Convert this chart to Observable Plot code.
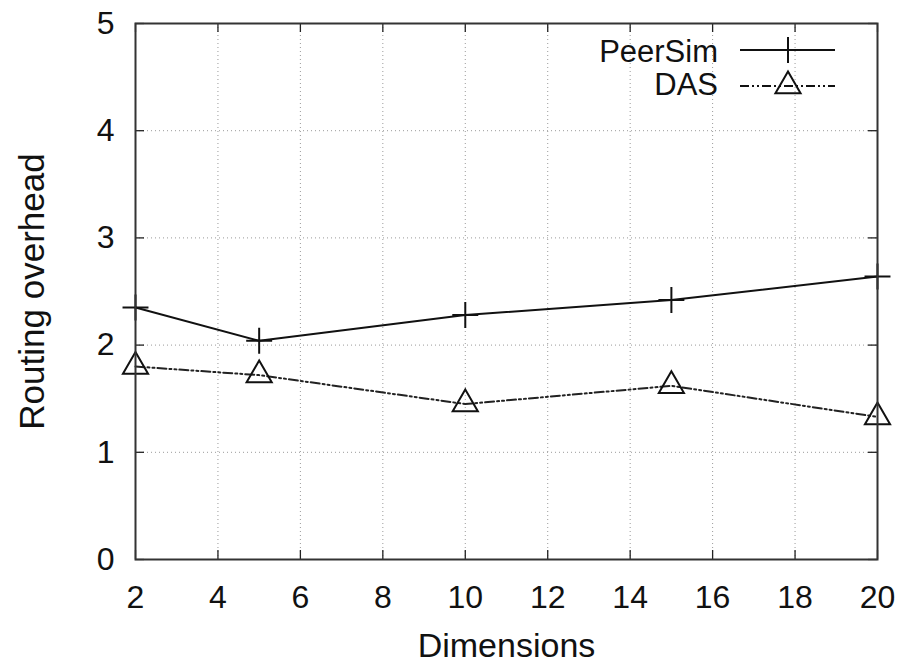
<!DOCTYPE html>
<html>
<head>
<meta charset="utf-8">
<script src="https://cdn.jsdelivr.net/npm/d3@7"></script>
<script src="https://cdn.jsdelivr.net/npm/@observablehq/plot@0.6"></script>
<style>
  html, body { margin: 0; padding: 0; background: #fff; }
  #chart { position: relative; width: 906px; height: 663px; }
  #chart svg { display: block; }
  #legend { position: absolute; left: 0; top: 0; }
</style>
</head>
<body>
<div id="chart"></div>
<script>
// ---- data ----
const dimensions = [2, 5, 10, 15, 20];
const peersim = [2.35, 2.04, 2.28, 2.42, 2.64];
const das = [1.80, 1.72, 1.45, 1.62, 1.33];
const seriesNames = ["PeerSim", "DAS"];
const xTicks = [2, 4, 6, 8, 10, 12, 14, 16, 18, 20];
const yTicks = [0, 1, 2, 3, 4, 5];
const xLabel = "Dimensions";
const yLabel = "Routing overhead";

// ---- build tables ----
const peerRows = dimensions.map((d, i) => ({x: d, y: peersim[i]}));
const dasRows = dimensions.map((d, i) => ({x: d, y: das[i]}));

const FONT = "'Liberation Sans', Arial, Helvetica, sans-serif";
const W = 906, H = 663;
const mL = 135, mR = 29, mT = 23, mB = 104;
const frameW = W - mL - mR, frameH = H - mT - mB;
const TICK = 9;
const plusR = 8.4, triR = 12;
const dasDash = "9,3,2,3,2,3";

const chart = Plot.plot({
  width: W,
  height: H,
  marginLeft: mL,
  marginRight: mR,
  marginTop: mT,
  marginBottom: mB,
  style: {fontFamily: FONT, background: "#fff", color: "#111", overflow: "visible"},
  x: {domain: [2, 20], axis: null},
  y: {domain: [0, 5], axis: null},
  marks: [
    Plot.gridX(xTicks, {stroke: "#9a9a9a", strokeOpacity: 1, strokeWidth: 1, strokeDasharray: "1,3"}),
    Plot.gridY(yTicks, {stroke: "#9a9a9a", strokeOpacity: 1, strokeWidth: 1, strokeDasharray: "1,3"}),
    // inward ticks (bottom, top, left, right)
    Plot.tickX(xTicks, {x: d => d, insetTop: frameH - TICK, stroke: "#222", strokeWidth: 1.3}),
    Plot.tickX(xTicks, {x: d => d, insetBottom: frameH - TICK, stroke: "#222", strokeWidth: 1.3}),
    Plot.tickY(yTicks, {y: d => d, insetRight: frameW - TICK, stroke: "#222", strokeWidth: 1.3}),
    Plot.tickY(yTicks, {y: d => d, insetLeft: frameW - TICK, stroke: "#222", strokeWidth: 1.3}),
    // tick labels
    Plot.text(xTicks, {x: d => d, text: d => String(d), frameAnchor: "bottom", lineAnchor: "bottom", dy: 48, fontSize: 32, fill: "#111"}),
    Plot.text(yTicks, {y: d => d, text: d => String(d), frameAnchor: "left", textAnchor: "end", lineAnchor: "middle", dx: -21, fontSize: 32, fill: "#111"}),
    // axis titles
    Plot.text([xLabel], {frameAnchor: "bottom", lineAnchor: "bottom", dy: 97, fontSize: 34, fill: "#111"}),
    Plot.text([yLabel], {frameAnchor: "left", rotate: -90, lineAnchor: "bottom", textAnchor: "middle", dx: -92, fontSize: 35, fill: "#111"}),
    // series
    Plot.line(peerRows, {x: "x", y: "y", stroke: "#111", strokeWidth: 2}),
    Plot.dot(peerRows, {x: "x", y: "y", symbol: "plus", r: plusR, stroke: "#111", strokeWidth: 2}),
    Plot.line(dasRows, {x: "x", y: "y", stroke: "#222", strokeWidth: 2, strokeDasharray: dasDash}),
    Plot.dot(dasRows, {x: "x", y: "y", symbol: "triangle2", r: triR, stroke: "#111", strokeWidth: 2, fill: "none"}),
    Plot.frame({stroke: "#333", strokeWidth: 2})
  ]
});

const host = document.getElementById("chart");
host.appendChild(chart);

// ---- legend (inside the plot, top-right) ----
const leg = d3.select(host).append("svg")
  .attr("id", "legend")
  .attr("width", W).attr("height", 120)
  .style("pointer-events", "none");

const legendItems = [
  {name: seriesNames[0], textY: 62, lineY: 50, dash: null, symbol: d3.symbolPlus, r: plusR},
  {name: seriesNames[1], textY: 95, lineY: 86, dash: dasDash, symbol: d3.symbolTriangle2, r: triR}
];
const textRight = 718, lineX1 = 740, lineX2 = 835, symX = 788;
legendItems.forEach(it => {
  leg.append("text")
    .attr("x", textRight).attr("y", it.textY)
    .attr("text-anchor", "end")
    .attr("font-family", FONT).attr("font-size", 31).attr("fill", "#111")
    .text(it.name);
  leg.append("line")
    .attr("x1", lineX1).attr("x2", lineX2)
    .attr("y1", it.lineY).attr("y2", it.lineY)
    .attr("stroke", "#111").attr("stroke-width", 2)
    .attr("stroke-dasharray", it.dash);
  leg.append("path")
    .attr("transform", `translate(${symX},${it.lineY})`)
    .attr("d", d3.symbol(it.symbol, Math.PI * it.r * it.r)())
    .attr("fill", "none").attr("stroke", "#111").attr("stroke-width", 2);
});
</script>
</body>
</html>
